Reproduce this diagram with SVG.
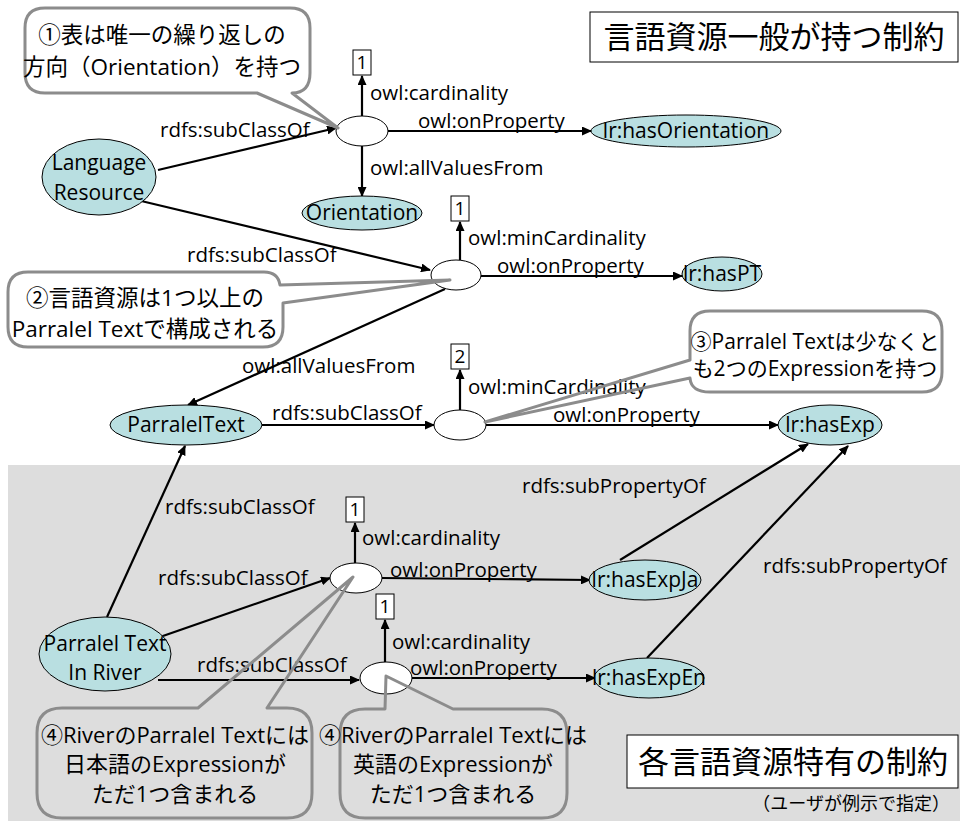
<svg xmlns="http://www.w3.org/2000/svg" width="960" height="821" viewBox="0 0 960 821">
  <defs>
    <marker id="arr" markerUnits="userSpaceOnUse" markerWidth="10" markerHeight="9" refX="9" refY="4.5" orient="auto">
      <path d="M0,0 L10,4.5 L0,9 z" fill="#000"/>
    </marker>
    <style>
      text { font-family: "Open Sans", "Noto Sans CJK JP", sans-serif; fill: #000; }
      .lbl { font-size: 20.5px; }
      .nlbl { font-size: 21px; text-anchor: middle; }
      .cls { fill: #b9dfe1; stroke: #000; stroke-width: 1; }
      .rst { fill: #fff; stroke: #000; stroke-width: 1; }
      .val { fill: #fff; stroke: #000; stroke-width: 1; }
      .vtx { font-size: 19px; text-anchor: middle; }
      .edge { fill: none; stroke: #000; stroke-width: 2.2; }
      .arrow { marker-end: url(#arr); }
      .nbg { fill: #fff; stroke: none; }
      .note { fill: none; stroke: #8c8c8c; stroke-width: 3; stroke-linejoin: round; }
      .ntx { font-size: 22.5px; text-anchor: middle; }
      .ntx3 { font-size: 21px; text-anchor: middle; }
      .ntx4 { font-size: 22px; text-anchor: middle; }
      .ttl { fill: #fff; stroke: #000; stroke-width: 1; }
      .ttx { font-family: "Noto Sans CJK JP", sans-serif; font-size: 31px; text-anchor: middle; }
    </style>
  </defs>

  <!-- white page and shaded area for resource-specific constraints -->
  <rect x="0" y="0" width="960" height="821" fill="#fff"/>
  <rect x="8" y="465" width="952" height="356" fill="#dddddd"/>

  <!-- connectors -->
  <g id="connectors">
    <!-- restriction 1 -->
    <line class="edge arrow" x1="158" y1="170" x2="336" y2="128"/>
    <line class="edge arrow" x1="362" y1="116" x2="362" y2="76"/>
    <line class="edge arrow" x1="388" y1="131" x2="591" y2="131"/>
    <line class="edge arrow" x1="362" y1="146" x2="362" y2="196"/>
    <!-- restriction 2 -->
    <line class="edge arrow" x1="137" y1="200" x2="430" y2="270"/>
    <line class="edge arrow" x1="460" y1="260" x2="460" y2="222"/>
    <line class="edge arrow" x1="481" y1="276" x2="682" y2="276"/>
    <line class="edge arrow" x1="445" y1="289" x2="188" y2="405"/>
    <!-- restriction 3 -->
    <line class="edge arrow" x1="262" y1="425" x2="434" y2="425"/>
    <line class="edge arrow" x1="460" y1="410" x2="460" y2="370"/>
    <line class="edge arrow" x1="486" y1="425" x2="778" y2="425"/>
    <!-- river-specific -->
    <line class="edge arrow" x1="107" y1="617" x2="185" y2="446"/>
    <line class="edge arrow" x1="160" y1="637" x2="330" y2="578"/>
    <line class="edge arrow" x1="355" y1="563" x2="355" y2="523"/>
    <line class="edge arrow" x1="382" y1="578" x2="590" y2="580"/>
    <line class="edge arrow" x1="158" y1="680" x2="359" y2="680"/>
    <line class="edge arrow" x1="385" y1="662" x2="385" y2="620"/>
    <line class="edge arrow" x1="412" y1="678" x2="595" y2="678"/>
    <line class="edge arrow" x1="620" y1="560" x2="808" y2="444"/>
    <line class="edge arrow" x1="647" y1="658" x2="848" y2="446"/>

    <!-- edge labels -->
    <text class="lbl" x="160" y="137">rdfs:subClassOf</text>
    <text class="lbl" x="370" y="100">owl:cardinality</text>
    <text class="lbl" x="418" y="128">owl:onProperty</text>
    <text class="lbl" x="370" y="175">owl:allValuesFrom</text>
    <text class="lbl" x="187" y="262">rdfs:subClassOf</text>
    <text class="lbl" x="468" y="245">owl:minCardinality</text>
    <text class="lbl" x="497" y="273">owl:onProperty</text>
    <text class="lbl" x="242" y="373">owl:allValuesFrom</text>
    <text class="lbl" x="468" y="394">owl:minCardinality</text>
    <text class="lbl" x="553" y="422">owl:onProperty</text>
    <text class="lbl" x="272" y="420">rdfs:subClassOf</text>
    <text class="lbl" x="522" y="493">rdfs:subPropertyOf</text>
    <text class="lbl" x="763" y="573">rdfs:subPropertyOf</text>
    <text class="lbl" x="165" y="514">rdfs:subClassOf</text>
    <text class="lbl" x="362" y="545">owl:cardinality</text>
    <text class="lbl" x="390" y="577">owl:onProperty</text>
    <text class="lbl" x="158" y="585">rdfs:subClassOf</text>
    <text class="lbl" x="392" y="649">owl:cardinality</text>
    <text class="lbl" x="410" y="675">owl:onProperty</text>
    <text class="lbl" x="197" y="672">rdfs:subClassOf</text>
  </g>

  <!-- class nodes -->
  <g id="LanguageResource">
    <ellipse class="cls" cx="99" cy="177" rx="57" ry="38"/>
    <text class="nlbl" x="99" y="170">Language</text>
    <text class="nlbl" x="99" y="200">Resource</text>
  </g>
  <g id="Orientation">
    <ellipse class="cls" cx="362" cy="213" rx="60" ry="17"/>
    <text class="nlbl" x="362" y="220">Orientation</text>
  </g>
  <g id="hasOrientation">
    <ellipse class="cls" cx="686" cy="131" rx="95" ry="16"/>
    <text class="nlbl" x="686" y="138">lr:hasOrientation</text>
  </g>
  <g id="hasPT">
    <ellipse class="cls" cx="722" cy="274" rx="40" ry="17"/>
    <text class="nlbl" x="722" y="281">lr:hasPT</text>
  </g>
  <g id="ParralelText">
    <ellipse class="cls" cx="186" cy="425" rx="76" ry="20"/>
    <text class="nlbl" x="186" y="432">ParralelText</text>
  </g>
  <g id="hasExp">
    <ellipse class="cls" cx="830" cy="425" rx="52" ry="20"/>
    <text class="nlbl" x="830" y="432">lr:hasExp</text>
  </g>
  <g id="ParralelTextInRiver">
    <ellipse class="cls" cx="105" cy="654" rx="66" ry="37"/>
    <text class="nlbl" x="105" y="651">Parralel Text</text>
    <text class="nlbl" x="105" y="680">In River</text>
  </g>
  <g id="hasExpJa">
    <ellipse class="cls" cx="645" cy="580" rx="56" ry="20"/>
    <text class="nlbl" x="645" y="587">lr:hasExpJa</text>
  </g>
  <g id="hasExpEn">
    <ellipse class="cls" cx="649" cy="678" rx="55" ry="20"/>
    <text class="nlbl" x="649" y="685">lr:hasExpEn</text>
  </g>

  <!-- anonymous restriction nodes -->
  <g id="restriction1"><ellipse class="rst" cx="362" cy="131" rx="26" ry="15"/></g>
  <g id="restriction2"><ellipse class="rst" cx="456" cy="275" rx="25" ry="15"/></g>
  <g id="restriction3"><ellipse class="rst" cx="460" cy="425" rx="26" ry="15"/></g>
  <g id="restriction4"><ellipse class="rst" cx="356" cy="578" rx="26" ry="15"/></g>
  <g id="restriction5"><ellipse class="rst" cx="386" cy="678" rx="26" ry="16"/></g>

  <!-- cardinality values -->
  <g id="value1">
    <rect class="val" x="353" y="50" width="18" height="25"/>
    <text class="vtx" x="362" y="69">1</text>
  </g>
  <g id="value2">
    <rect class="val" x="451" y="196" width="18" height="25"/>
    <text class="vtx" x="460" y="215">1</text>
  </g>
  <g id="value3">
    <rect class="val" x="451" y="344" width="18" height="25"/>
    <text class="vtx" x="460" y="363">2</text>
  </g>
  <g id="value4">
    <rect class="val" x="346" y="497" width="18" height="25"/>
    <text class="vtx" x="355" y="516">1</text>
  </g>
  <g id="value5">
    <rect class="val" x="376" y="594" width="18" height="25"/>
    <text class="vtx" x="385" y="613">1</text>
  </g>

  <!-- callouts: white body (where the page is white), then the outline with its pointer -->
  <g id="note1">
    <rect class="nbg" x="25" y="8" width="285" height="85" rx="20"/>
    <path class="note" d="M45,8 H290 Q310,8 310,28 V73 Q310,93 292,93 L338,128 L257,93 H45 Q25,93 25,73 V28 Q25,8 45,8 Z"/>
    <text class="ntx" x="162" y="43">①表は唯一の繰り返しの</text>
    <text class="ntx" x="162" y="75">方向（Orientation）を持つ</text>
  </g>
  <g id="note2">
    <rect class="nbg" x="8" y="272" width="275" height="75" rx="20"/>
    <path class="note" d="M28,272 H264 Q278,272 280,285 L450,280 L283,303 V327 Q283,347 263,347 H28 Q8,347 8,327 V292 Q8,272 28,272 Z"/>
    <text class="ntx" x="145" y="306">②言語資源は1つ以上の</text>
    <text class="ntx" x="145" y="337">Parralel Textで構成される</text>
  </g>
  <g id="note3">
    <rect class="nbg" x="690" y="311" width="252" height="81" rx="20"/>
    <path class="note" d="M710,311 H922 Q942,311 942,331 V372 Q942,392 922,392 H710 Q691,392 690,378 L485,422 L690,360 V331 Q690,311 710,311 Z"/>
    <text class="ntx3" x="815" y="349">③Parralel Textは少なくと</text>
    <text class="ntx3" x="815" y="376">も2つのExpressionを持つ</text>
  </g>
  <g id="note4ja">
    <path class="note" d="M62,708 H198 L353,577 L267,708 H287 Q312,708 312,733 V793 Q312,818 287,818 H62 Q37,818 37,793 V733 Q37,708 62,708 Z"/>
    <text class="ntx4" x="175" y="743">④RiverのParralel Textには</text>
    <text class="ntx4" x="175" y="772">日本語のExpressionが</text>
    <text class="ntx4" x="175" y="802">ただ1つ含まれる</text>
  </g>
  <g id="note4en">
    <path class="note" d="M365,709 H385 L386,676 L453,709 H542 Q567,709 567,734 V793 Q567,818 542,818 H365 Q340,818 340,793 V734 Q340,709 365,709 Z"/>
    <text class="ntx4" x="453" y="743">④RiverのParralel Textには</text>
    <text class="ntx4" x="453" y="772">英語のExpressionが</text>
    <text class="ntx4" x="453" y="802">ただ1つ含まれる</text>
  </g>

  <!-- section titles -->
  <g id="titleGeneral">
    <rect class="ttl" x="590" y="12" width="368" height="50"/>
    <text class="ttx" x="774" y="48">言語資源一般が持つ制約</text>
  </g>
  <g id="titleSpecific">
    <rect class="ttl" x="627" y="735" width="331" height="53"/>
    <text class="ttx" x="793" y="773">各言語資源特有の制約</text>
    <text x="950" y="810" font-family="Noto Sans CJK JP, sans-serif" font-size="18" text-anchor="end">（ユーザが例示で指定）</text>
  </g>
</svg>
